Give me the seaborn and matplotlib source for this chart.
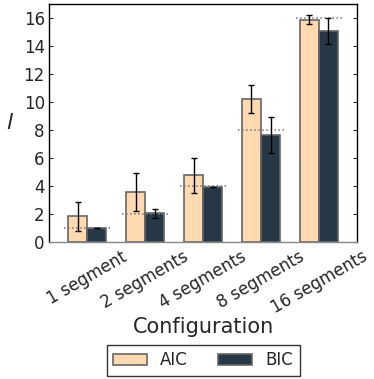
import numpy as np
import pandas as pd
import matplotlib
matplotlib.use("Agg")
import matplotlib.pyplot as plt
import seaborn as sns

# Data
configs = ["1 segment", "2 segments", "4 segments", "8 segments", "16 segments"]
true_l = [1, 2, 4, 8, 16]
aic_mean = [1.85, 3.57, 4.77, 10.2, 15.9]
aic_err = [1.05, 1.37, 1.26, 1.0, 0.3]
bic_mean = [1.0, 2.07, 3.97, 7.67, 15.1]
bic_err = [0.0, 0.32, 0.0, 1.27, 0.94]

df = pd.DataFrame({
    "config": configs * 2,
    "l": aic_mean + bic_mean,
    "criterion": ["AIC"] * 5 + ["BIC"] * 5,
})
errs = {"AIC": aic_err, "BIC": bic_err}

sns.set_style("ticks")
plt.rcParams["font.family"] = ["DejaVu Sans"]

fig = plt.figure(figsize=(3.74, 3.79), dpi=100)
ax = fig.add_axes([0.131, 0.361, 0.824, 0.628])

palette = {"AIC": "#FFDAB0", "BIC": "#263746"}
sns.barplot(data=df, x="config", y="l", hue="criterion", order=configs,
            hue_order=["AIC", "BIC"], palette=palette, width=0.66,
            saturation=1, errorbar=None, edgecolor="#666666", linewidth=1.2,
            ax=ax)

# error bars from the drawn bars
for cont, crit in zip(ax.containers, ["AIC", "BIC"]):
    xs = [b.get_x() + b.get_width() / 2 for b in cont]
    ys = [b.get_height() for b in cont]
    ax.errorbar(xs, ys, yerr=errs[crit], fmt="none", ecolor="black",
                elinewidth=1, capsize=2.5, capthick=1, zorder=5)

# true number of segments as dotted lines
centers = np.arange(len(configs))
ax.hlines(true_l, centers - 0.4, centers + 0.4, colors="#777777",
          linestyles=":", linewidth=1.1, zorder=4)

ax.set_xlim(-0.66, 4.66)
ax.set_ylim(0, 17)
ax.set_yticks(range(0, 17, 2))
ax.tick_params(axis="y", direction="in", right=True, length=3,
               labelsize=12, width=0.8, pad=3)
ax.tick_params(axis="x", length=0, labelsize=12, pad=4)
plt.setp(ax.get_xticklabels(), rotation=30, ha="center")
for s in ax.spines.values():
    s.set_color("black")
    s.set_linewidth(1.0)
ax.spines["bottom"].set_color("#888888")

ax.set_xlabel("Configuration", fontsize=15, labelpad=0)
ax.set_ylabel("$l$", fontsize=16, rotation=0, ha="center", va="center")
ax.yaxis.set_label_coords(-0.125, 0.5)

ax.legend(loc="upper center", bbox_to_anchor=(0.5, -0.43), ncol=2,
          fontsize=12, frameon=True, fancybox=False, edgecolor="black",
          borderaxespad=0, handlelength=2.0, handletextpad=0.8,
          columnspacing=1.85, title=None)
ax.get_legend().get_frame().set_linewidth(1.0)

fig.savefig("out.png", dpi=100)
